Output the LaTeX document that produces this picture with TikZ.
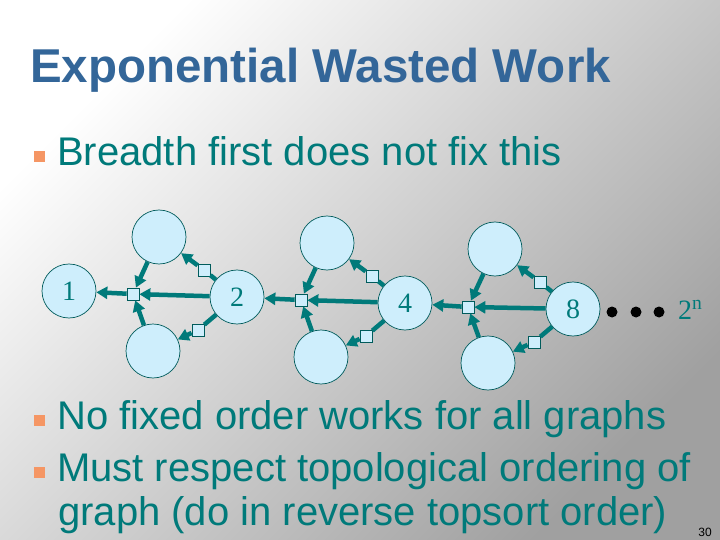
\documentclass[tikz,border=0pt]{standalone}
\usepackage{fontspec}
\setmainfont{Liberation Sans}
\newfontfamily\numfont{Liberation Serif}
\usepackage{xcolor}
\usepackage{tikz}
\usetikzlibrary{arrows.meta}

\definecolor{titleblue}{RGB}{51,102,153}
\definecolor{slideteal}{RGB}{0,122,122}
\definecolor{nodefill}{RGB}{206,238,252}
\definecolor{bulletorange}{RGB}{245,150,100}
\definecolor{bggray}{RGB}{160,160,160}

\tikzset{
	vert/.style={circle,draw=slideteal!75!black,line width=0.7pt,fill=nodefill,
		minimum size=54pt,inner sep=0pt,text=slideteal,
		font=\numfont\fontsize{28}{28}\selectfont},
	joint/.style={rectangle,draw=slideteal!75!black,line width=0.7pt,fill=nodefill,
		minimum size=12pt,inner sep=0pt},
	flow/.style={->,>={Triangle[length=11pt,width=12pt]},line width=4.5pt,color=slideteal},
	link/.style={line width=4.5pt,color=slideteal},
	bulletsq/.style={rectangle,fill=bulletorange,minimum size=11pt,inner sep=0pt},
	bodytext/.style={anchor=base west,inner sep=0pt,text=slideteal,
		font=\fontsize{40}{40}\selectfont},
	dot/.style={circle,fill=black,minimum size=11pt,inner sep=0pt}
}

\begin{document}
\begin{tikzpicture}[x=1pt,y=-1pt]
	\shade[top color=white,bottom color=bggray,shading angle=45] (0,0) rectangle (720,540);
	%
	\node[anchor=base west,inner sep=0pt,text=titleblue,
		font=\bfseries\fontsize{47.5}{47.5}\selectfont] (T) at (30,83) {Exponential Wasted Work};
	\node[bulletsq] (P1) at (39,157) {};
	\node[bodytext] (S1) at (57,166) {Breadth first does not fix this};
	%
	\node[vert] (N1) at (69,291) {1};
	\node[vert] (N2) at (237,297) {2};
	\node[vert] (N4) at (405,303) {4};
	\node[vert] (N8) at (573,309) {8};
	%
	\node[joint] (J1) at (133,294) {};
	\node[joint] (J2) at (301,300) {};
	\node[joint] (J3) at (468,307) {};
	\node[vert] (T1) at (159,237) {};
	\node[vert] (T2) at (327,243) {};
	\node[vert] (T3) at (495,249) {};
	\node[vert] (B1) at (153,351) {};
	\node[vert] (B2) at (321,357) {};
	\node[vert] (B3) at (488,363) {};
	\node[joint] (U1) at (204,270) {};
	\node[joint] (U2) at (372,276) {};
	\node[joint] (U3) at (540,282) {};
	\node[joint] (L1) at (198,330) {};
	\node[joint] (L2) at (366,336) {};
	\node[joint] (L3) at (534,342) {};
	%
	\draw[link]
	(N2) edge (U1) (N2) edge (L1)
	(N4) edge (U2) (N4) edge (L2)
	(N8) edge (U3) (N8) edge (L3);
	\draw[flow]
	(N2) edge (J1) (J1) edge (N1) (T1) edge (J1) (B1) edge (J1) (U1) edge (T1) (L1) edge (B1)
	(N4) edge (J2) (J2) edge (N2) (T2) edge (J2) (B2) edge (J2) (U2) edge (T2) (L2) edge (B2)
	(N8) edge (J3) (J3) edge (N4) (T3) edge (J3) (B3) edge (J3) (U3) edge (T3) (L3) edge (B3);
	%
	\node[dot] (D1) at (612,312) {};
	\node[dot] (D2) at (636,312) {};
	\node[dot] (D3) at (659,312) {};
	\node[anchor=base west,inner sep=0pt,text=slideteal,
		font=\numfont\fontsize{28}{28}\selectfont] (NN) at (678,319) {2\textsuperscript{n}};
	%
	\node[bulletsq] (P2) at (39,420) {};
	\node[bodytext] (S2) at (57,429) {No fixed order works for all graphs};
	\node[bulletsq] (P3) at (39,472) {};
	\node[bodytext] (S3) at (57,481) {Must respect topological ordering of};
	\node[bodytext] (S4) at (58,525) {graph (do in reverse topsort order)};
	\node[anchor=base east,inner sep=0pt,font=\fontsize{12}{12}\selectfont] (PG) at (712,536) {30};
\end{tikzpicture}
\end{document}
